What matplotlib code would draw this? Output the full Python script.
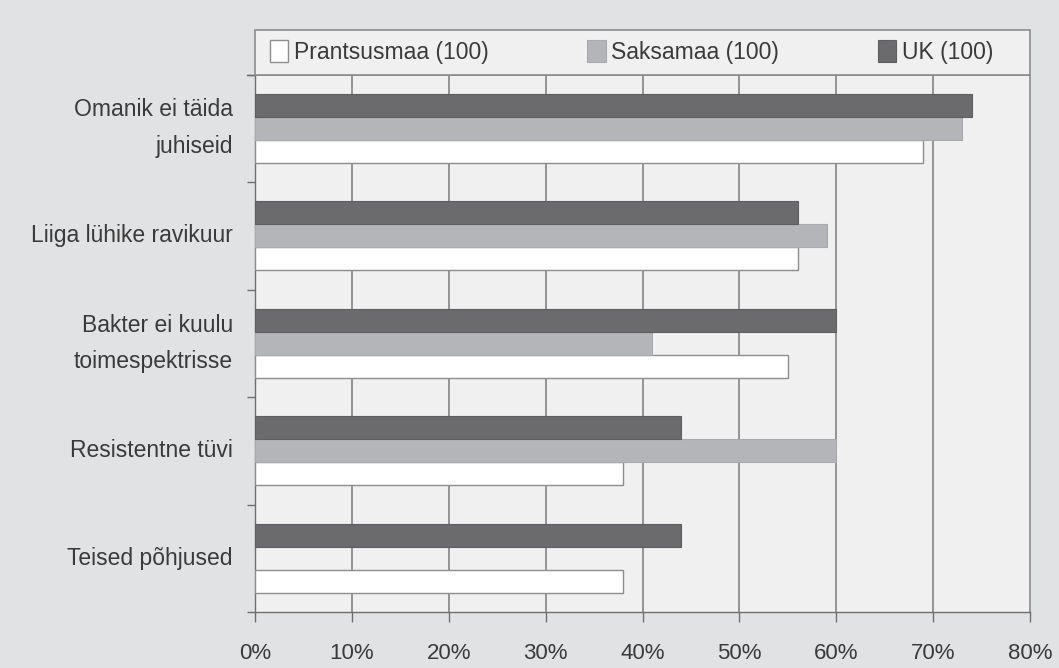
import numpy as np
import matplotlib.pyplot as plt
from matplotlib.patches import Rectangle

# data (percent)
categories = ['Omanik ei täida\njuhiseid', 'Liiga lühike ravikuur',
              'Bakter ei kuulu\ntoimespektrisse', 'Resistentne tüvi',
              'Teised põhjused']
series_names = ['Prantsusmaa (100)', 'Saksamaa (100)', 'UK (100)']
prantsusmaa = [69, 56, 55, 38, 38]
saksamaa = [73, 59, 41, 60, np.nan]
uk = [74, 56, 60, 44, 44]
xticks = [0, 10, 20, 30, 40, 50, 60, 70, 80]

fonts = ['Liberation Sans', 'DejaVu Sans']
txt = '#3a3a3a'

fig = plt.figure(figsize=(10.59, 6.68), dpi=100, facecolor='#e1e2e4')
ax = fig.add_axes([255 / 1059, 1 - 612 / 668, 775 / 1059, 537.5 / 668])
ax.set_facecolor('#f0f0f0')

y = np.arange(len(categories))
h = 0.214
b_fr = ax.barh(y + h, prantsusmaa, height=h, color='#ffffff',
               edgecolor='#8e8e90', linewidth=1.0, zorder=3)
b_de = ax.barh(y, saksamaa, height=h, color='#b4b5b9',
               edgecolor='#a9aaae', linewidth=0.8, zorder=3)
b_uk = ax.barh(y - h, uk, height=h, color='#6b6b6d',
               edgecolor='#5e5e60', linewidth=0.8, zorder=3)

ax.set_xlim(0, 80)
ax.set_ylim(4.5, -0.5)

# vertical grid
for v in xticks[1:-1]:
    ax.axvline(v, color='#8c8c8e', linewidth=1.3, zorder=1)

# x axis ticks
ax.set_xticks(xticks)
ax.set_xticklabels([f'{v}%' for v in xticks], family=fonts, fontsize=16,
                   color=txt)
ax.tick_params(axis='x', direction='out', length=7.5, width=1.0,
               color='#6e6e6e', pad=15)

# y axis: boundary ticks (major), category labels (minor)
ax.set_yticks(np.arange(-0.5, 5, 1.0))
ax.set_yticklabels([])
ax.tick_params(axis='y', which='major', direction='out', length=6,
               width=1.0, color='#6e6e6e')
ax.set_yticks(y, minor=True)
ax.set_yticklabels(categories, minor=True, family=fonts, fontsize=16.5,
                   color=txt, linespacing=1.75, ha='right', va='center')
ax.tick_params(axis='y', which='minor', length=0, pad=16)

for s in ['left', 'bottom']:
    ax.spines[s].set_color('#6e6e6e')
    ax.spines[s].set_linewidth(1.0)
for s in ['top', 'right']:
    ax.spines[s].set_color('#8c8c8e')
    ax.spines[s].set_linewidth(1.2)

# legend box above the bars
lh = 45 / 537.5
box = Rectangle((0, 1), 1, lh, transform=ax.transAxes, facecolor='#f0f0f0',
                edgecolor='#8c8c8e', linewidth=1.2, clip_on=False, zorder=4)
ax.add_patch(box)
ax.plot([-8 / 775, 0], [1, 1], transform=ax.transAxes, color='#6e6e6e',
        linewidth=1.0, clip_on=False)

leg = ax.legend([b_fr, b_de, b_uk], series_names, ncol=3, loc='center left',
                bbox_to_anchor=(15 / 775, 1 + lh / 2), frameon=False,
                prop={'family': fonts, 'size': 16.5}, handlelength=0.8,
                handleheight=1.1, handletextpad=0.25, columnspacing=4.3,
                borderpad=0, borderaxespad=0)
for t in leg.get_texts():
    t.set_color(txt)
leg.set_zorder(5)

fig.savefig('out.png', dpi=100, facecolor=fig.get_facecolor())
